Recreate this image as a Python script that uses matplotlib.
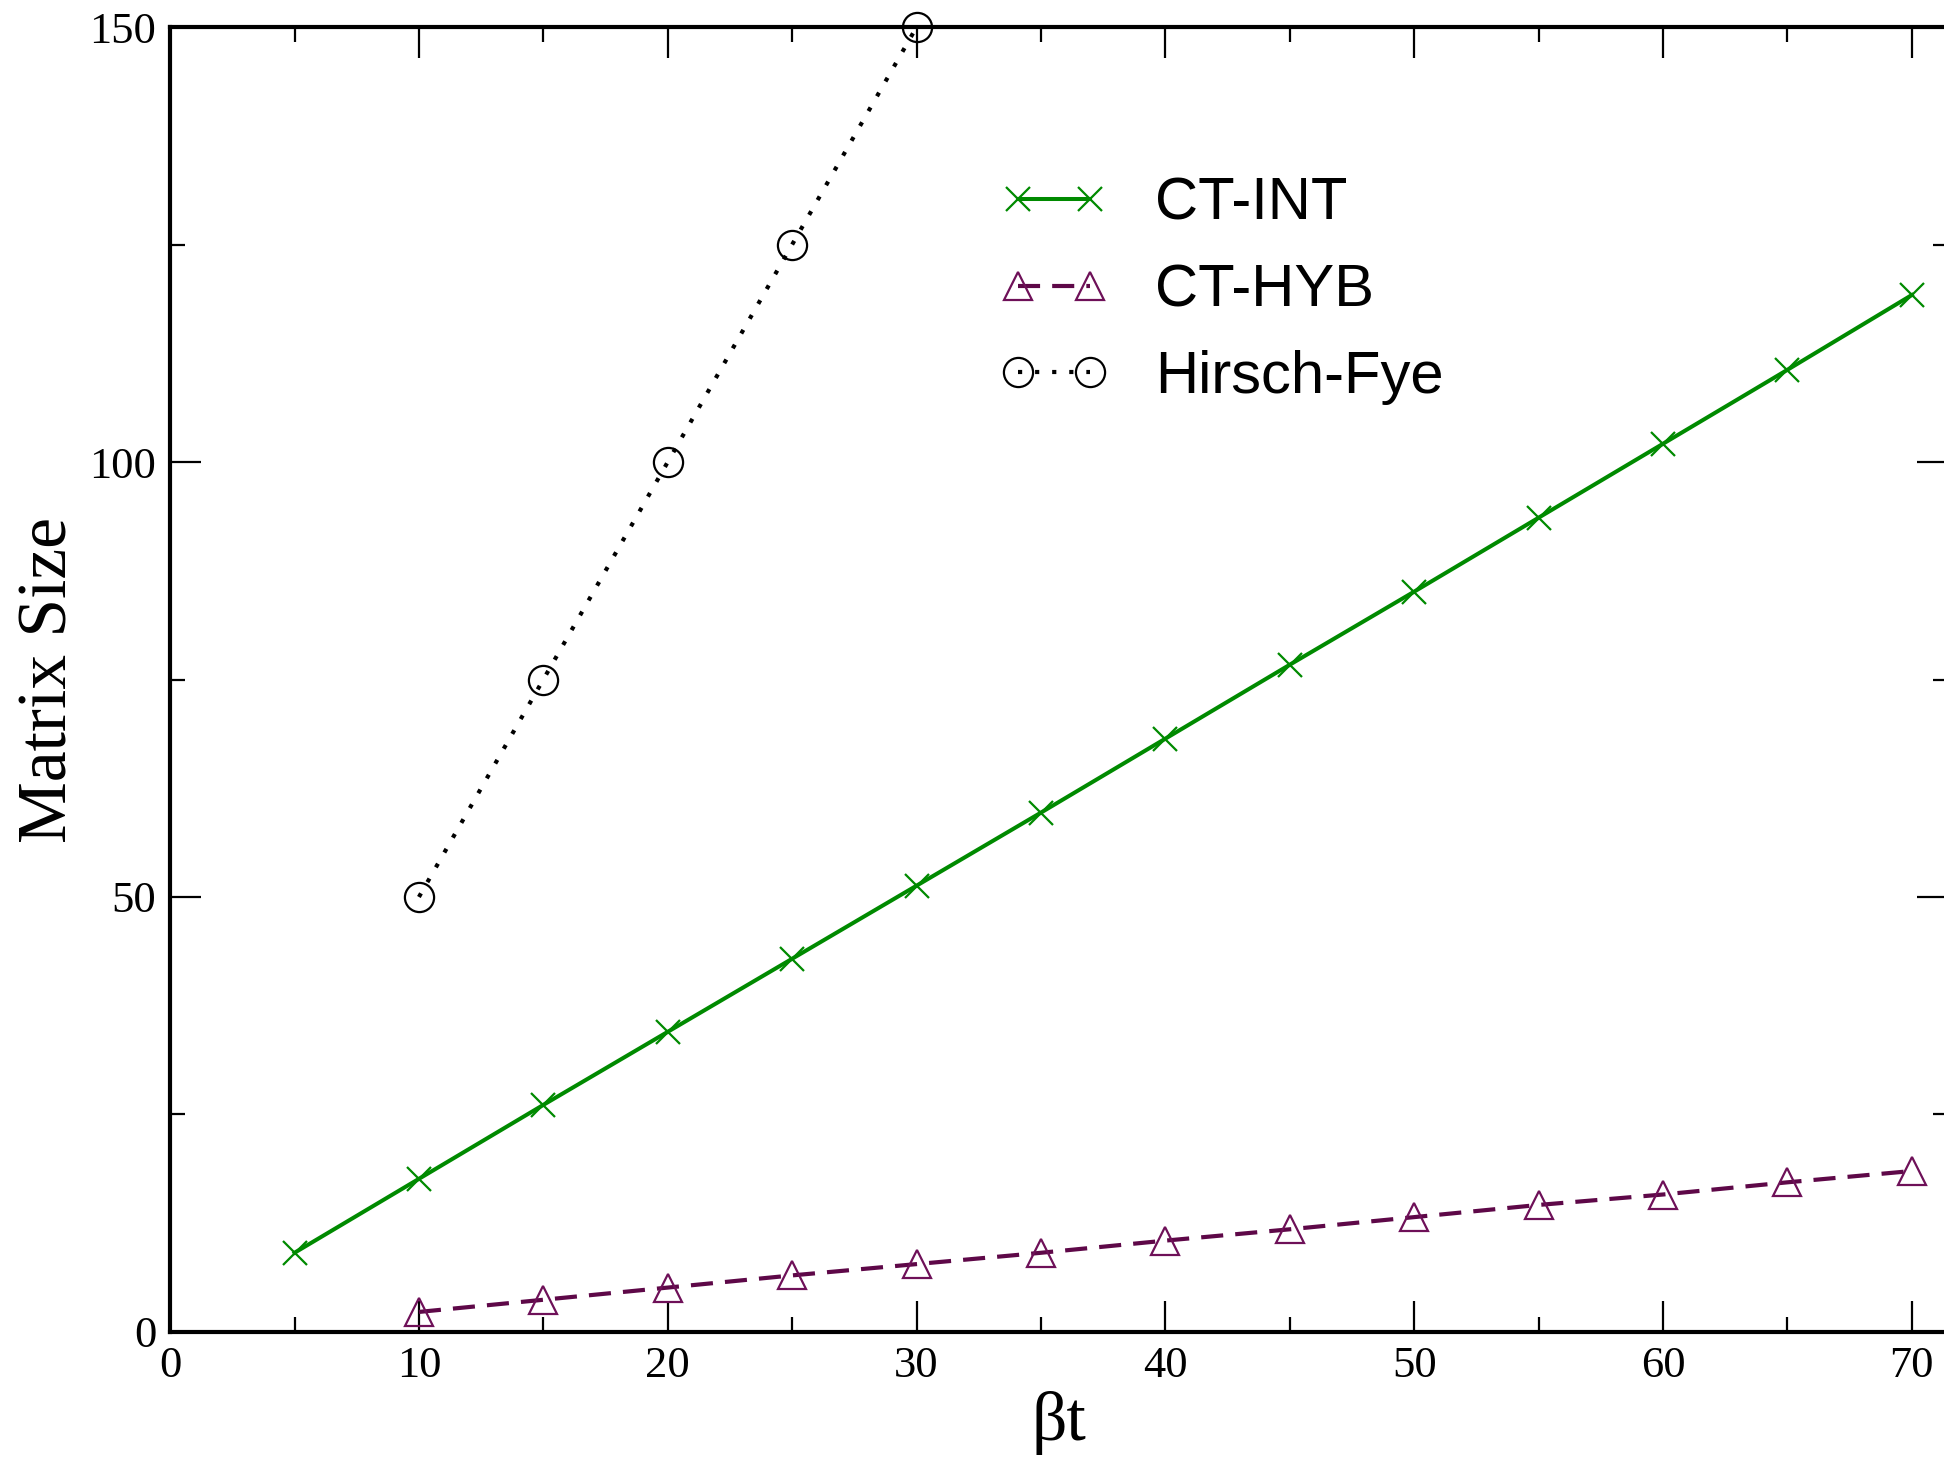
import numpy as np
import matplotlib.pyplot as plt
from matplotlib.ticker import MultipleLocator

# data
beta_int = [5, 10, 15, 20, 25, 30, 35, 40, 45, 50, 55, 60, 65, 70]
size_int = [9.1, 17.6, 26.1, 34.5, 42.9, 51.3, 59.7, 68.2, 76.7, 85.1, 93.6, 102.1, 110.6, 119.2]

beta_hyb = [10, 15, 20, 25, 30, 35, 40, 45, 50, 55, 60, 65, 70]
size_hyb = [2.3, 3.7, 5.1, 6.5, 7.8, 9.1, 10.5, 11.8, 13.2, 14.6, 15.8, 17.2, 18.5]

beta_hf = [10, 15, 20, 25, 30]
size_hf = [50, 75, 100, 125, 150]

fig = plt.figure(figsize=(19.44, 14.64), dpi=100)
ax = fig.add_axes([0.0875, 0.0902, 0.9125 + 0.002, 0.9815 - 0.0902])

ax.plot(beta_int, size_int, color='#008a00', lw=2.9, marker='x', ms=17, mew=1.6,
        label='CT-INT', clip_on=False, zorder=3)
ax.plot(beta_hyb, size_hyb, color='#5e0848', lw=3.0, dashes=(5.3, 2.9),
        marker='^', ms=20, mfc='none', mec='#6e1058', mew=1.6,
        label='CT-HYB', clip_on=False, zorder=3)
ax.plot(beta_hf, size_hf, color='black', lw=3.0, dashes=(1.0, 3.1),
        marker='o', ms=21, mfc='none', mec='black', mew=1.6,
        label='Hirsch-Fye', clip_on=False, zorder=3)

ax.set_xlim(0, 71.45)
ax.set_ylim(0, 150)
ax.xaxis.set_major_locator(MultipleLocator(10))
ax.xaxis.set_minor_locator(MultipleLocator(5))
ax.yaxis.set_major_locator(MultipleLocator(50))
ax.yaxis.set_minor_locator(MultipleLocator(25))

ax.tick_params(which='both', direction='in', top=True, right=True, width=1.6)
ax.tick_params(which='major', length=22, pad=10)
ax.tick_params(which='minor', length=11)
for s in ax.spines.values():
    s.set_linewidth(3.0)

for lab in ax.get_xticklabels() + ax.get_yticklabels():
    lab.set_fontfamily('Liberation Serif')
    lab.set_fontsize(32)

ax.set_xlabel('βt', family='Liberation Serif', fontsize=50, labelpad=4)
ax.set_ylabel('Matrix Size', family='Liberation Serif', fontsize=50, labelpad=6)

leg = ax.legend(loc='upper left', bbox_to_anchor=(0.45, 0.908), frameon=False,
                numpoints=2, handlelength=1.8, handletextpad=0.8,
                labelspacing=0.53, borderpad=0,
                prop={'family': 'Liberation Sans', 'size': 43})

fig.savefig('out.png', dpi=100)
